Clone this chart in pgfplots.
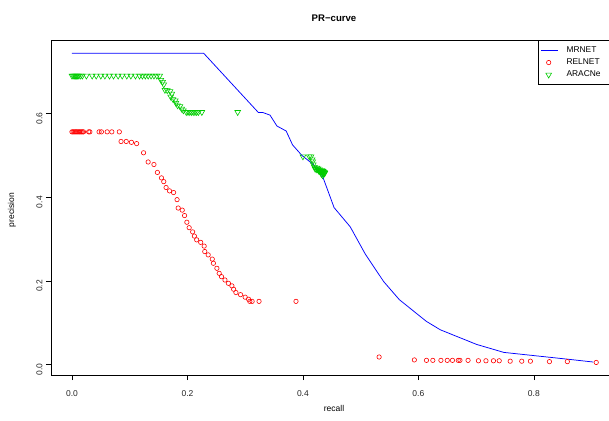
\documentclass[border=0pt]{standalone}
\usepackage{pgfplots}
\pgfplotsset{compat=1.18}
\usepackage{pgfplotstable}
\usepackage{fontspec}
\setmainfont{Liberation Sans}
\definecolor{rblue}{RGB}{0,0,255}
\definecolor{rred}{RGB}{255,0,0}
\definecolor{rgreen}{RGB}{0,205,0}
\pgfplotsset{
  lineleg/.style={legend image code/.code={\draw[##1] (0pt,0pt) -- (17pt,0pt); \path (0pt,0pt) (25pt,0pt);}},
  markleg/.style={legend image code/.code={\draw[##1] plot coordinates {(7.5pt,0pt)}; \path (0pt,0pt) (25pt,0pt);}},
}

\pgfplotstableread{
x y
0.000 0.744
0.228 0.744
0.323 0.602
0.331 0.602
0.343 0.596
0.355 0.570
0.371 0.558
0.382 0.525
0.398 0.500
0.418 0.478
0.434 0.450
0.454 0.375
0.482 0.329
0.508 0.264
0.540 0.198
0.567 0.155
0.614 0.103
0.638 0.083
0.701 0.048
0.748 0.029
0.857 0.013
0.903 0.006
}\mrnet

\pgfplotstableread{
x y
0.000 0.556
0.002 0.556
0.004 0.556
0.006 0.556
0.008 0.556
0.010 0.556
0.012 0.556
0.014 0.556
0.016 0.556
0.018 0.556
0.020 0.556
0.029 0.556
0.031 0.556
0.047 0.556
0.051 0.556
0.061 0.556
0.069 0.556
0.082 0.556
0.085 0.533
0.094 0.533
0.103 0.531
0.112 0.528
0.124 0.506
0.132 0.484
0.142 0.478
0.148 0.459
0.155 0.446
0.159 0.437
0.163 0.423
0.169 0.415
0.176 0.411
0.182 0.394
0.184 0.374
0.191 0.369
0.195 0.356
0.199 0.340
0.203 0.327
0.209 0.317
0.212 0.307
0.216 0.298
0.223 0.292
0.229 0.283
0.230 0.270
0.236 0.262
0.243 0.252
0.245 0.242
0.251 0.230
0.255 0.218
0.259 0.210
0.265 0.202
0.271 0.194
0.277 0.188
0.280 0.180
0.284 0.172
0.292 0.167
0.300 0.161
0.306 0.156
0.308 0.151
0.312 0.151
0.324 0.151
0.388 0.151
0.532 0.018
0.593 0.011
0.614 0.010
0.625 0.010
0.639 0.010
0.650 0.010
0.659 0.010
0.669 0.010
0.672 0.010
0.686 0.010
0.704 0.009
0.717 0.009
0.730 0.009
0.740 0.009
0.759 0.008
0.779 0.008
0.794 0.008
0.827 0.007
0.858 0.007
0.908 0.005
}\relnet

\pgfplotstableread{
x y
0.000 0.690
0.002 0.690
0.004 0.690
0.006 0.690
0.008 0.690
0.010 0.690
0.012 0.690
0.015 0.690
0.018 0.690
0.025 0.690
0.035 0.690
0.042 0.690
0.050 0.690
0.057 0.690
0.065 0.690
0.072 0.690
0.080 0.690
0.087 0.690
0.095 0.690
0.102 0.690
0.110 0.690
0.117 0.690
0.122 0.690
0.127 0.690
0.132 0.690
0.137 0.690
0.142 0.690
0.147 0.690
0.152 0.690
0.154 0.680
0.157 0.675
0.159 0.669
0.161 0.656
0.165 0.655
0.170 0.653
0.173 0.647
0.171 0.640
0.175 0.634
0.179 0.631
0.180 0.625
0.183 0.619
0.187 0.617
0.190 0.611
0.193 0.607
0.198 0.603
0.201 0.603
0.204 0.603
0.207 0.603
0.210 0.603
0.213 0.603
0.216 0.603
0.219 0.603
0.225 0.603
0.287 0.603
0.400 0.497
0.411 0.497
0.414 0.497
0.416 0.490
0.417 0.485
0.418 0.478
0.420 0.472
0.421 0.468
0.423 0.466
0.425 0.466
0.427 0.464
0.428 0.462
0.430 0.462
0.431 0.460
0.433 0.460
0.434 0.458
0.435 0.458
0.436 0.456
0.437 0.456
0.438 0.458
0.437 0.460
0.435 0.462
0.433 0.464
0.429 0.466
0.426 0.468
0.424 0.470
0.432 0.455
0.434 0.452
}\aracne

\begin{document}
\begin{tikzpicture}[x=1pt,y=1pt]
\useasboundingbox (0,0) rectangle (609,420);
\begin{axis}[
  at={(51pt,45pt)}, anchor=south west,
  scale only axis, width=566pt, height=335pt,
  xmin=-0.0363, xmax=0.944, ymin=-0.025, ymax=0.7755,
  xtick={0,0.2,0.4,0.6,0.8}, ytick={0,0.2,0.4,0.6},
  xtick pos=left, ytick pos=left,
  tick align=outside, major tick length=5pt,
  tick style={black, line width=0.6pt},
  axis line style={line width=0.6pt},
  /pgf/number format/.cd, fixed, fixed zerofill, precision=1, assume math mode=true,
  /pgfplots/.cd,
  tick label style={font=\fontsize{8.5}{10}\selectfont, color=black!85},
  xticklabel style={yshift=-7pt},
  yticklabel style={rotate=90, anchor=south, xshift=-5pt},
  legend style={at={(rel axis cs:1,1)}, anchor=north east, draw=black, line width=0.6pt,
    font=\fontsize{8.4}{10}\selectfont, inner xsep=3pt, inner ysep=6.3pt, row sep=4.7pt,
    cells={anchor=west}, nodes={inner sep=0pt, text height=6pt, text depth=1.5pt}},
]
\addplot[rblue, line width=0.75pt, lineleg] table[x=x,y=y] {\mrnet};
\addlegendentry{MRNET\hspace*{14pt}}
\addplot[rred, only marks, mark=o, mark size=2.2pt, mark options={line width=0.6pt}, markleg]
  table[x=x,y=y] {\relnet};
\addlegendentry{RELNET\hspace*{14pt}}
\addplot[rgreen, only marks, mark=triangle, mark size=3.3pt, mark options={rotate=180, line width=0.6pt}, markleg]
  table[x=x,y=y] {\aracne};
\addlegendentry{ARACNe\hspace*{12pt}}
\end{axis}
\node[font=\bfseries\fontsize{9.6}{11}\selectfont] at (334,402) {PR−curve};
\node[font=\fontsize{8.5}{10}\selectfont, anchor=base] at (334,9) {recall};
\node[font=\fontsize{8.5}{10}\selectfont, rotate=90] at (12,210) {precision};
\end{tikzpicture}
\end{document}
